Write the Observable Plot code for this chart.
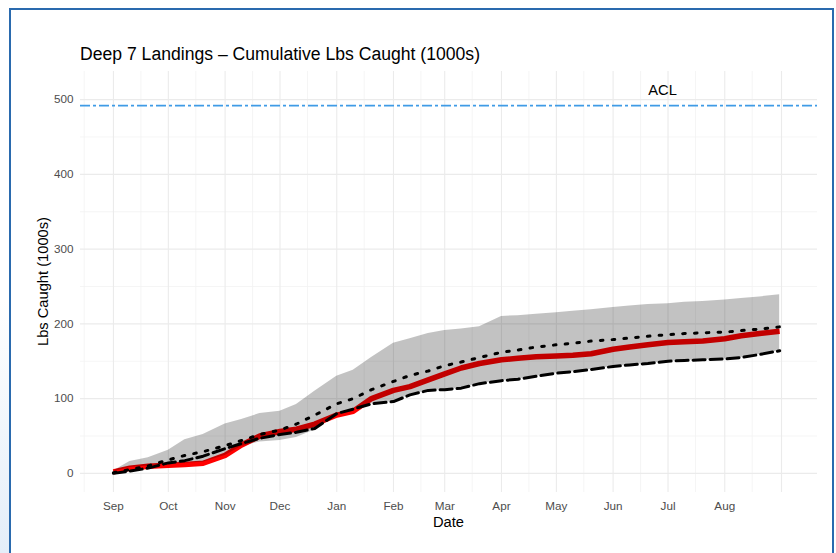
<!DOCTYPE html>
<html>
<head>
<meta charset="utf-8">
<script src="https://cdn.jsdelivr.net/npm/d3@7"></script>
<script src="https://cdn.jsdelivr.net/npm/@observablehq/plot@0.6"></script>
<style>
  html, body { margin: 0; padding: 0; background: #ffffff; }
  #wrap { position: relative; width: 836px; height: 553px; overflow: hidden; }
  #frame { position: absolute; left: 9px; top: 8px; width: 825px; height: 560px; border: 2px solid #2a6aae; box-sizing: border-box; }
  #strip { position: absolute; left: 0; top: 300px; width: 9px; height: 253px; background: linear-gradient(to bottom, #ffffff, #e4eef9); }
  #chart { position: absolute; left: 0; top: 0; }
  svg text { font-family: "Liberation Sans", Arial, Helvetica, sans-serif; }
  g[aria-label$="tick label"] { font-size: 11.7px; }
</style>
</head>
<body>
<div id="wrap">
  <div id="strip"></div>
  <div id="chart"></div>
  <div id="frame"></div>
</div>
<script>
// ---- data (values in 1000s of lbs) ----
const dates = [
  "2018-09-01","2018-09-10","2018-09-20",
  "2018-10-01","2018-10-10","2018-10-20",
  "2018-11-01","2018-11-10","2018-11-20",
  "2018-12-01","2018-12-10","2018-12-20",
  "2019-01-01","2019-01-10","2019-01-20",
  "2019-02-01","2019-02-10","2019-02-20",
  "2019-03-01","2019-03-10","2019-03-20",
  "2019-04-01","2019-04-10","2019-04-20",
  "2019-05-01","2019-05-10","2019-05-20",
  "2019-06-01","2019-06-10","2019-06-20",
  "2019-07-01","2019-07-10","2019-07-20",
  "2019-08-01","2019-08-10","2019-08-20","2019-08-31"
];
// current season (red)
const current = [2,7,9.5, 11,12,13.5, 24,38,50, 56,59,66, 78,83,100, 111,116,125, 133,141,147, 152,154,156, 157,158,160, 166,169,172, 175,176,177, 180,184,187,190];
// range band upper / lower
const bandHigh = [3,16,21, 31,45,52, 66,72,80, 83,92,110, 130,138,155, 174,180,187, 191,193,196, 210,211,213, 215,217,219, 222,224,226, 227,229,230, 232,234,236,239];
const bandLow  = [2,8,10, 12,13.5,15, 24,36,42, 44,48,58, 76,86,93, 96,105,111, 112,114,120, 124,126,130, 134,136,139, 143,145,147, 150,151,152, 153,155,159,164];
// comparison series
const dashedSeries = [0,3,7, 14,17,23, 33,40,47, 52,55,60, 80,86,93, 96,105,111, 112,114,120, 124,126,130, 134,136,139, 143,145,147, 150,151,152, 153,155,159,164];
const dottedSeries = [1,5,10, 18,24,29, 37,44,52, 58,66,78, 93,100,112, 123,131,137, 144,149,155, 162,165,169, 172,174,177, 179,181,183.5, 185.5,187,188, 189,191,193,196];
const acl = 492;
const aclLabel = "ACL";
const aclLabelDate = "2019-06-28";
const aclLabelValue = 512;

// axis ticks
const monthTicks = ["2018-09-01","2018-10-01","2018-11-01","2018-12-01","2019-01-01","2019-02-01","2019-03-01","2019-04-01","2019-05-01","2019-06-01","2019-07-01","2019-08-01"];
const monthLabels = ["Sep","Oct","Nov","Dec","Jan","Feb","Mar","Apr","May","Jun","Jul","Aug"];
const monthGrid = monthTicks.concat(["2019-09-01"]);
const minorGrid = ["2018-08-16","2018-09-16","2018-10-16","2018-11-16","2018-12-16","2019-01-16","2019-02-16","2019-03-16","2019-04-16","2019-05-16","2019-06-16","2019-07-16","2019-08-16"];
const yTicks = [0,100,200,300,400,500];
const yMinor = [50,150,250,350,450];

const title = "Deep 7 Landings \u2013 Cumulative Lbs Caught (1000s)";
const xTitle = "Date";
const yTitle = "Lbs Caught (1000s)";

// ---- build ----
const P = d => new Date(d + "T00:00:00Z");
const rows = dates.map((d, i) => ({
  date: P(d), current: current[i], hi: bandHigh[i], lo: bandLow[i],
  dashed: dashedSeries[i], dotted: dottedSeries[i]
}));
const labelMap = new Map(monthTicks.map((d, i) => [+P(d), monthLabels[i]]));

const chart = Plot.plot({
  width: 836,
  height: 553,
  marginLeft: 80,
  marginRight: 19,
  marginTop: 71,
  marginBottom: 61,
  style: { fontFamily: "'Liberation Sans', Arial, Helvetica, sans-serif", fontSize: "11.7px", background: "transparent" },
  x: { type: "utc", domain: [new Date(Date.UTC(2018, 7, 14)), new Date(Date.UTC(2019, 8, 20, 16))] },
  y: { domain: [-25.6, 537.6] },
  marks: [
    Plot.ruleY(yMinor, { stroke: "#f2f2f2", strokeWidth: 0.8 }),
    Plot.ruleX(minorGrid.map(P), { stroke: "#f2f2f2", strokeWidth: 0.8 }),
    Plot.ruleY(yTicks, { stroke: "#ebebeb", strokeWidth: 1.1 }),
    Plot.ruleX(monthGrid.map(P), { stroke: "#ebebeb", strokeWidth: 1.1 }),
    Plot.line(rows, { x: "date", y: "current", stroke: "#ff0000", strokeWidth: 5.5, strokeLinejoin: "round", strokeLinecap: "butt" }),
    Plot.areaY(rows, { x: "date", y1: "lo", y2: "hi", fill: "#000000", fillOpacity: 0.24 }),
    Plot.line(rows, { x: "date", y: "dashed", stroke: "#000000", strokeWidth: 3, strokeDasharray: "12,5" }),
    Plot.line(rows, { x: "date", y: "dotted", stroke: "#000000", strokeWidth: 3, strokeDasharray: "2.6,9.2" }),
    Plot.ruleY([acl], { stroke: "#3f9be6", strokeWidth: 1.6, strokeDasharray: "10,3,3,3" }),
    Plot.text([aclLabel], { x: () => P(aclLabelDate), y: () => aclLabelValue, text: d => d, fontSize: 14.7, fill: "#000000" }),
    Plot.axisX(monthTicks.map(P), { tickSize: 0, tickPadding: 8.7, fontSize: 11.7, fill: "#4d4d4d", tickFormat: d => labelMap.get(+d), label: null }),
    Plot.axisY(yTicks, { tickSize: 0, tickPadding: 7, fontSize: 11.7, fill: "#4d4d4d", label: null })
  ]
});
document.getElementById("chart").appendChild(chart);

const svg = d3.select(chart);
svg.selectAll('g[aria-label$="tick label"]').attr("font-size", 11.7).style("font-size", "11.7px");
svg.append("text").attr("x", 80).attr("y", 60).attr("text-anchor", "start").attr("font-size", 17.6).attr("fill", "#000").text(title);
svg.append("text").attr("x", 448.5).attr("y", 527).attr("text-anchor", "middle").attr("font-size", 14.7).attr("fill", "#000").text(xTitle);
svg.append("text").attr("transform", "translate(48,281.5) rotate(-90)").attr("text-anchor", "middle").attr("font-size", 14.7).attr("fill", "#000").text(yTitle);
</script>
</body>
</html>
